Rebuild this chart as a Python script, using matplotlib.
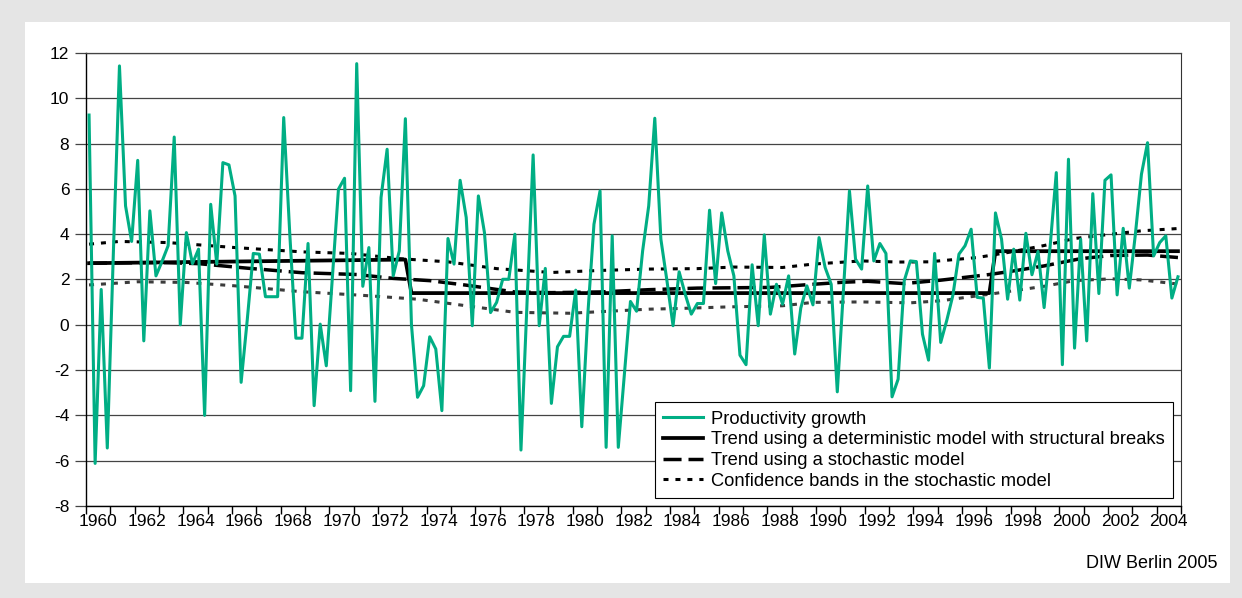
import matplotlib
matplotlib.use('Agg')
import matplotlib.pyplot as plt
from matplotlib.patches import Rectangle

plt.rcParams['font.family'] = ['Liberation Sans', 'DejaVu Sans']
plt.rcParams['axes.unicode_minus'] = False
plt.rcParams['lines.scale_dashes'] = False

# quarterly productivity growth, 1960Q1 .. 2004Q4
growth = [9.26, -6.12, 1.56, -5.44, 3.2, 11.43, 5.25, 3.68, 7.26, -0.71,
          5.03, 2.16, 2.8, 3.49, 8.29, 0.0, 4.07, 2.7, 3.34, -4.0,
          5.32, 2.68, 7.16, 7.06, 5.69, -2.54, 0.2, 3.15, 3.12, 1.24,
          1.24, 1.24, 9.15, 4.0, -0.59, -0.59, 3.59, -3.57, 0.03, -1.81,
          2.1, 5.99, 6.47, -2.91, 11.53, 1.7, 3.41, -3.38, 5.62, 7.75,
          2.16, 3.26, 9.1, 0.0, -3.2, -2.69, -0.53, -1.07, -3.79, 3.81,
          2.68, 6.38, 4.74, -0.04, 5.69, 4.07, 0.54, 0.99, 2.01, 2.01,
          4.0, -5.53, 1.0, 7.5, -0.04, 2.49, -3.47, -0.97, -0.51, -0.51,
          1.53, -4.5, 0.5, 4.44, 5.91, -5.41, 3.93, -5.41, -2.2, 1.03,
          0.6, 3.26, 5.25, 9.12, 3.78, 1.94, -0.04, 2.34, 1.35, 0.47,
          0.94, 0.94, 5.06, 1.82, 4.94, 3.26, 2.16, -1.34, -1.76, 2.65,
          -0.04, 3.97, 0.47, 1.79, 0.91, 2.16, -1.29, 0.74, 1.72, 0.88,
          3.85, 2.53, 1.79, -2.96, 1.5, 5.91, 2.9, 2.46, 6.13, 2.82,
          3.59, 3.15, -3.18, -2.4, 1.94, 2.82, 2.79, -0.41, -1.56, 3.15,
          -0.78, 0.2, 1.3, 3.12, 3.49, 4.22, 1.21, 1.18, -1.91, 4.94,
          3.78, 1.13, 3.34, 1.09, 4.04, 2.21, 3.24, 0.76, 3.5, 6.72,
          -1.76, 7.31, -1.03, 3.78, -0.71, 5.79, 1.38, 6.38, 6.62, 1.32,
          4.26, 1.62, 4.0, 6.65, 8.04, 3.04, 3.63, 3.93, 1.18, 2.12]

# trend lines, read at their turning points (quarter index, value)
det_q = [0, 52, 53, 148, 149, 179]
det_v = [2.72, 2.88, 1.4, 1.4, 3.25, 3.25]

sto_q = [0, 12, 18, 26, 35, 44, 50, 56, 62, 66, 70, 76, 84, 92, 100, 112,
         118, 124, 128, 134, 140, 148, 152, 157, 163, 168, 174, 179]
sto_v = [2.72, 2.75, 2.7, 2.5, 2.3, 2.22, 2.05, 1.95, 1.75, 1.6, 1.45, 1.42,
         1.45, 1.55, 1.62, 1.65, 1.77, 1.88, 1.92, 1.82, 1.97, 2.22, 2.38,
         2.6, 2.92, 3.06, 3.08, 2.97]

up_q = [0, 5, 13, 24, 35, 43, 51, 59, 67, 76, 84, 92, 100, 106, 114, 119,
        127, 133, 138, 146, 151, 157, 162, 168, 173, 179]
up_v = [3.56, 3.68, 3.63, 3.41, 3.22, 3.15, 2.92, 2.78, 2.48, 2.31, 2.4, 2.46,
        2.48, 2.55, 2.53, 2.68, 2.82, 2.77, 2.78, 2.97, 3.19, 3.5, 3.81, 4.0,
        4.15, 4.25]

lo_q = [0, 8, 16, 24, 35, 45, 54, 62, 70, 79, 87, 92, 97, 105, 114, 119,
        127, 135, 140, 148, 157, 162, 168, 173, 179]
lo_v = [1.76, 1.9, 1.87, 1.72, 1.46, 1.3, 1.13, 0.84, 0.55, 0.51, 0.62, 0.69,
        0.72, 0.79, 0.84, 0.99, 1.01, 0.97, 1.06, 1.35, 1.7, 1.95, 2.03, 1.98,
        1.8]

years = list(range(1960, 2005, 2))
labels = ['Productivity growth',
          'Trend using a deterministic model with structural breaks',
          'Trend using a stochastic model',
          'Confidence bands in the stochastic model']

fig = plt.figure(figsize=(12.42, 5.98), dpi=100)
fig.patch.set_facecolor('#e5e5e5')
panel = Rectangle((25/1242, 15/598), 1205/1242, 561/598,
                  transform=fig.transFigure, facecolor='white',
                  edgecolor='none', zorder=-10)
fig.add_artist(panel)

ax = fig.add_axes([86/1242, 92/598, 1095/1242, 453/598])
ax.set_zorder(1)
ax.set_facecolor('white')

q = list(range(len(growth)))
ax.plot(q, growth, color='#00ae84', lw=2.2, label=labels[0], zorder=6)
ax.plot(det_q, det_v, color='black', lw=2.7, label=labels[1], zorder=5)
ax.plot(sto_q, sto_v, color='black', lw=2.5, ls=(0, (13, 5)),
        label=labels[2], zorder=4, dash_capstyle='butt')
ax.plot(up_q, up_v, color='black', lw=2.2, ls=(0, (3.6, 5.0)),
        label=labels[3], zorder=4, dash_capstyle='butt')
ax.plot(lo_q, lo_v, color='#3c3c3c', lw=2.2, ls=(0, (3.6, 5.0)),
        zorder=4, dash_capstyle='butt')

ax.set_ylim(-8, 12)
ax.set_yticks(range(-8, 13, 2))
ax.yaxis.grid(True, color='#444444', lw=0.9)
ax.set_axisbelow(True)
ax.tick_params(axis='y', length=8, width=0.9, color='#444444', pad=4,
               labelsize=12.5)

ax.set_xlim(-0.5, len(growth) - 0.5)
ax.set_xticks([4 * k - 0.5 for k in range(46)])
ax.set_xticklabels([])
ax.set_xticks([8 * k + 1.5 for k in range(len(years))], minor=True)
ax.set_xticklabels([str(y) for y in years], minor=True)
ax.tick_params(axis='x', which='major', length=6, width=1, color='black')
ax.tick_params(axis='x', which='minor', length=0, pad=6, labelsize=12.5)

for s in ['left', 'bottom']:
    ax.spines[s].set_color('black')
    ax.spines[s].set_linewidth(1)
ax.spines['right'].set_color('#333333')
ax.spines['top'].set_color('#444444')
ax.spines['top'].set_linewidth(0.9)

leg = ax.legend(loc='lower right', bbox_to_anchor=(0.9927, 0.0177),
                frameon=True, fancybox=False, edgecolor='black',
                framealpha=1, fontsize=13.2, handlelength=2.2,
                handletextpad=0.42, labelspacing=0.2, borderpad=0.45,
                borderaxespad=0)
leg.get_frame().set_linewidth(0.8)
leg.set_zorder(10)

fig.text(1217/1242, 1 - 563/598, 'DIW Berlin 2005', ha='right', va='center',
         fontsize=13)

fig.savefig('out.png', dpi=100, facecolor=fig.get_facecolor())
